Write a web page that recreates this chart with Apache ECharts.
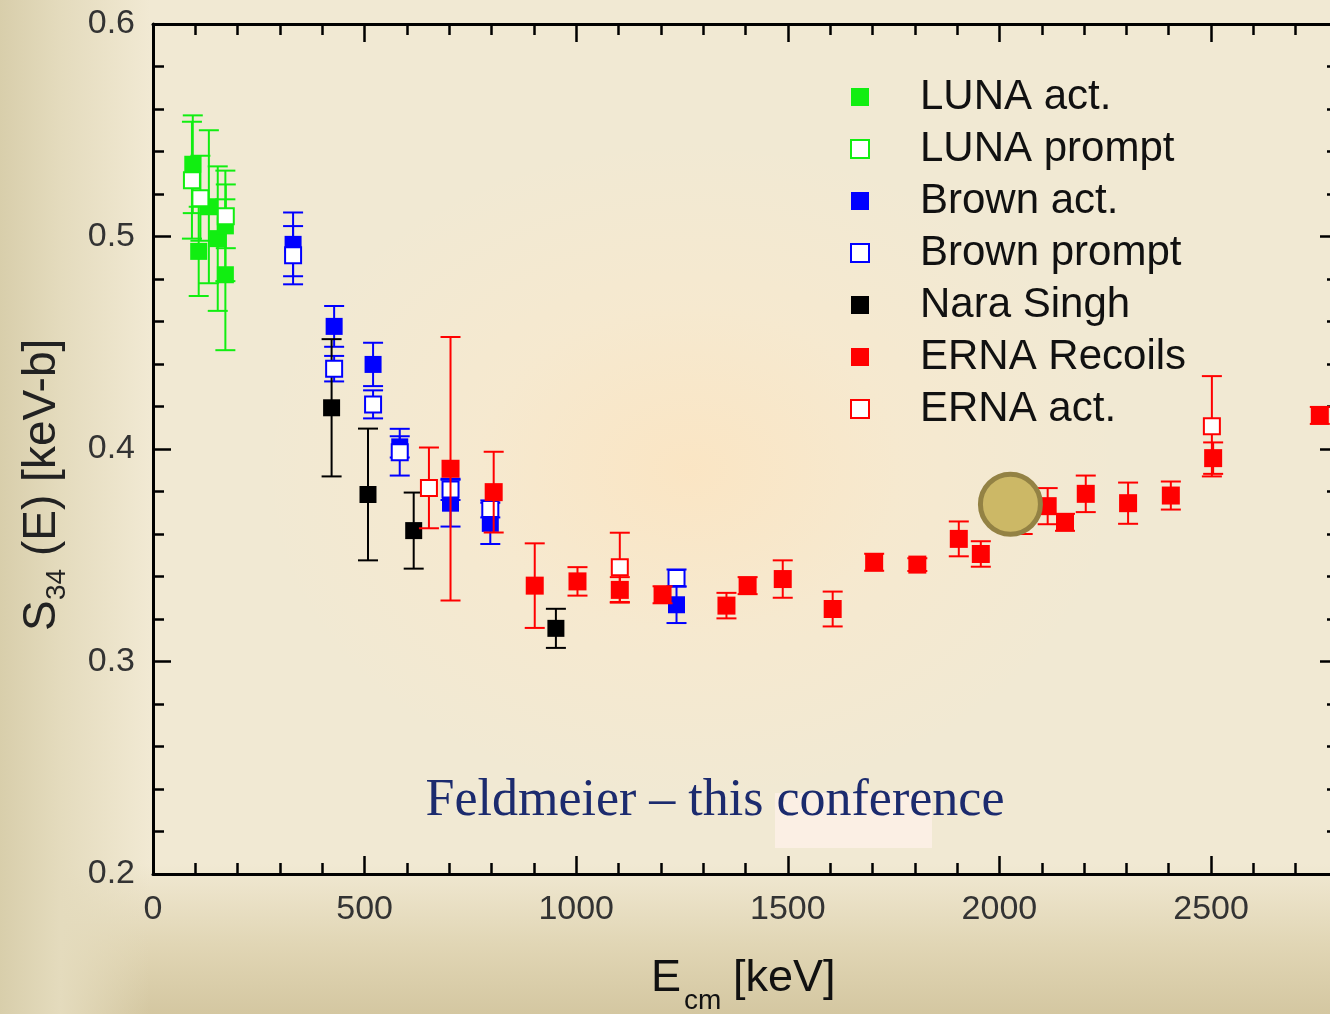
<!DOCTYPE html>
<html>
<head>
<meta charset="utf-8">
<script src="https://cdn.jsdelivr.net/npm/echarts@6/dist/echarts.min.js"></script>
<style>
html,body{margin:0;padding:0;overflow:hidden;}
#wrap{width:1330px;height:1014px;position:relative;overflow:hidden;
background:
 radial-gradient(ellipse 430px 330px at 690px 470px, rgba(251,229,195,0.95) 0%, rgba(249,233,205,0.6) 50%, rgba(245,236,214,0) 100%),
 linear-gradient(to right, #d8ceab 0px, #e4dbbd 60px, rgba(240,232,210,0) 150px),
 linear-gradient(to top, #d4c7a1 0px, #e1d6b5 70px, rgba(240,232,210,0) 150px),
 #f1e9d3;}
#chart{width:1400px;height:1014px;position:absolute;left:0;top:0;}
</style>
</head>
<body>
<div id="wrap"><div id="chart"></div></div>
<script>
// ---- data (E in keV, S34 in keV-b, symmetric error) ----
const lunaActE   = [94, 108, 132, 153, 171, 171];
const lunaActS   = [0.534, 0.493, 0.514, 0.499, 0.505, 0.482];
const lunaActErr = [0.023, 0.021, 0.036, 0.034, 0.026, 0.0355];

const lunaPrE   = [92, 112, 172];
const lunaPrS   = [0.5265, 0.518, 0.5095];
const lunaPrErr = [0.0275, 0.020, 0.015];

const brownActE   = [331, 428, 520, 583, 703, 797, 1237];
const brownActS   = [0.4963, 0.4577, 0.4398, 0.401, 0.3745, 0.365, 0.3267];
const brownActErr = [0.015, 0.0096, 0.0102, 0.005, 0.011, 0.0097, 0.0086];

const brownPrE   = [331, 428, 520, 583, 703, 797, 1237];
const brownPrS   = [0.4912, 0.4378, 0.421, 0.3985, 0.381, 0.3718, 0.3393];
const brownPrErr = [0.0137, 0.006, 0.0066, 0.011, 0.005, 0.004, 0.004];

const naraE   = [422, 508, 616, 952];
const naraS   = [0.4194, 0.3786, 0.3616, 0.3156];
const naraErr = [0.0323, 0.031, 0.0179, 0.0092];

const ernaRecE   = [703, 805, 902, 1003, 1103, 1204, 1355, 1405, 1488, 1606, 1704, 1806, 1904, 1956, 2055, 2114, 2155, 2204, 2304, 2405, 2505, 2757];
const ernaRecS   = [0.3907, 0.3797, 0.3357, 0.3377, 0.3337, 0.3314, 0.3263, 0.3357, 0.3388, 0.3247, 0.3467, 0.3456, 0.3577, 0.3506, 0.368, 0.3731, 0.3655, 0.3789, 0.3745, 0.3781, 0.3957, 0.4158];
const ernaRecErr = [0.062, 0.019, 0.0199, 0.0067, 0.006, 0.004, 0.006, 0.004, 0.0088, 0.0082, 0.004, 0.003, 0.0082, 0.006, 0.008, 0.0085, 0.004, 0.0086, 0.0097, 0.0066, 0.0074, 0.004];

const ernaActE   = [652, 1103, 2502];
const ernaActS   = [0.3817, 0.3443, 0.4107];
const ernaActErr = [0.019, 0.0163, 0.0236];

const highlightE = [2026];
const highlightS = [0.374];

const xTicks = [0, 500, 1000, 1500, 2000, 2500];
const yTicks = [0.2, 0.3, 0.4, 0.5, 0.6];

const names = ['LUNA act.', 'LUNA prompt', 'Brown act.', 'Brown prompt', 'Nara Singh', 'ERNA Recoils', 'ERNA act.'];

// ---- build ----
const GREEN = '#11ee11', BLUE = '#0000ff', BLACK = '#000000', RED = '#ff0000';
const FONT = 'Liberation Sans, Arial, sans-serif';

function pts(E, S) { return E.map((e, i) => [e, S[i]]); }
function bars(E, S, D) { return E.map((e, i) => [e, S[i] - D[i], S[i] + D[i]]); }

function errSeries(name, color, E, S, D, z) {
  return {
    name: name, type: 'custom', z: z, silent: true,
    xAxisIndex: 0, yAxisIndex: 0,
    encode: { x: 0, y: [1, 2] },
    data: bars(E, S, D),
    renderItem: function (params, api) {
      const x = api.value(0), lo = api.value(1), hi = api.value(2);
      const p1 = api.coord([x, hi]), p2 = api.coord([x, lo]);
      const hw = 10;
      const st = { stroke: color, lineWidth: 2 };
      return { type: 'group', children: [
        { type: 'line', shape: { x1: p1[0], y1: p1[1], x2: p2[0], y2: p2[1] }, style: st },
        { type: 'line', shape: { x1: p1[0] - hw, y1: p1[1], x2: p1[0] + hw, y2: p1[1] }, style: st },
        { type: 'line', shape: { x1: p2[0] - hw, y1: p2[1], x2: p2[0] + hw, y2: p2[1] }, style: st }
      ]};
    }
  };
}
function ptSeries(name, color, E, S, open, size, z) {
  return {
    name: name, type: 'scatter', z: z, silent: true,
    xAxisIndex: 0, yAxisIndex: 0,
    symbol: 'rect', symbolSize: size,
    itemStyle: open ? { color: '#ffffff', borderColor: color, borderWidth: 2, opacity: 1 }
                    : { color: color, opacity: 1 },
    data: pts(E, S)
  };
}

const series = [
  errSeries('e1', GREEN, lunaActE, lunaActS, lunaActErr, 2),
  ptSeries(names[0], GREEN, lunaActE, lunaActS, false, 17, 3),
  errSeries('e2', GREEN, lunaPrE, lunaPrS, lunaPrErr, 2),
  ptSeries(names[1], GREEN, lunaPrE, lunaPrS, true, 16, 3),
  errSeries('e3', BLUE, brownActE, brownActS, brownActErr, 2),
  ptSeries(names[2], BLUE, brownActE, brownActS, false, 17, 3),
  errSeries('e4', BLUE, brownPrE, brownPrS, brownPrErr, 2),
  ptSeries(names[3], BLUE, brownPrE, brownPrS, true, 16, 3),
  errSeries('e5', BLACK, naraE, naraS, naraErr, 2),
  ptSeries(names[4], BLACK, naraE, naraS, false, 17, 3),
  errSeries('e6', RED, ernaRecE, ernaRecS, ernaRecErr, 4),
  ptSeries(names[5], RED, ernaRecE, ernaRecS, false, 18, 5),
  errSeries('e7', RED, ernaActE, ernaActS, ernaActErr, 4),
  ptSeries(names[6], RED, ernaActE, ernaActS, true, 16, 5),
  {
    name: 'highlight', type: 'scatter', z: 20, silent: true,
    xAxisIndex: 0, yAxisIndex: 0,
    symbol: 'circle', symbolSize: 60,
    itemStyle: { color: '#ccb866', borderColor: '#938244', borderWidth: 5, opacity: 1 },
    data: pts(highlightE, highlightS)
  }
];

const legendData = [
  { name: names[0], icon: 'rect', itemStyle: { color: GREEN, borderWidth: 0 } },
  { name: names[1], icon: 'rect', itemStyle: { color: '#fff', borderColor: GREEN, borderWidth: 2 } },
  { name: names[2], icon: 'rect', itemStyle: { color: BLUE, borderWidth: 0 } },
  { name: names[3], icon: 'rect', itemStyle: { color: '#fff', borderColor: BLUE, borderWidth: 2 } },
  { name: names[4], icon: 'rect', itemStyle: { color: BLACK, borderWidth: 0 } },
  { name: names[5], icon: 'rect', itemStyle: { color: RED, borderWidth: 0 } },
  { name: names[6], icon: 'rect', itemStyle: { color: '#fff', borderColor: RED, borderWidth: 2 } }
];

const tickStyle = { color: '#000', width: 2.5 };
const xMin = xTicks[0], xMax = 2800;
const yMin = yTicks[0], yMax = yTicks[yTicks.length - 1];

function xAxisDef(pos, major) {
  return {
    type: 'value', position: pos, min: xMin, max: xMax,
    interval: major ? 500 : 100,
    axisLine: { show: major, onZero: false, lineStyle: { color: '#000', width: 3 } },
    axisTick: { show: true, inside: true, length: major ? 18 : 11, lineStyle: tickStyle },
    axisLabel: { show: major && pos === 'bottom', margin: 19, fontSize: 34, color: '#333', fontFamily: FONT,
      formatter: v => (xTicks.indexOf(v) >= 0 ? String(v) : '') },
    splitLine: { show: false }
  };
}
function yAxisDef(pos) {
  return {
    type: 'value', position: pos, min: yMin, max: yMax, interval: 0.1,
    axisLine: { show: true, onZero: false, lineStyle: { color: '#000', width: 3 } },
    axisTick: { show: true, inside: true, length: 18, lineStyle: tickStyle },
    minorTick: { show: true, splitNumber: 5, length: 11, lineStyle: tickStyle },
    axisLabel: { show: pos === 'left', margin: 18, fontSize: 34, color: '#333', fontFamily: FONT,
      formatter: v => v.toFixed(1) },
    splitLine: { show: false }, minorSplitLine: { show: false }
  };
}

const chart = echarts.init(document.getElementById('chart'), null, { renderer: 'canvas' });
chart.setOption({
  animation: false,
  backgroundColor: 'transparent',
  grid: { left: 153, top: 24, width: 1185, height: 850, containLabel: false },
  xAxis: [xAxisDef('bottom', true), xAxisDef('bottom', false), xAxisDef('top', true), xAxisDef('top', false)],
  yAxis: [yAxisDef('left'), yAxisDef('right')],
  legend: {
    data: legendData, orient: 'vertical', left: 845, top: 66,
    itemWidth: 18, itemHeight: 18, itemGap: 0, selectedMode: false,
    textStyle: { fontSize: 42, color: '#111', fontFamily: FONT, lineHeight: 52, padding: [0, 0, 0, 46] }
  },
  graphic: [
    { type: 'rect', z: 0, shape: { x: 775, y: 793, width: 157, height: 55 }, style: { fill: 'rgba(253,240,230,0.85)' } },
    { type: 'text', z: 30, x: 715, y: 801, style: { text: 'Feldmeier \u2013 this conference', font: '52px "Liberation Serif", serif', fill: '#1c2b6e', align: 'center', verticalAlign: 'middle' } },
    { type: 'group', x: 42, y: 631, rotation: Math.PI / 2, children: [
      { type: 'text', x: 0, y: 0, style: { text: 'S', font: '46px ' + FONT, fill: '#222', align: 'left', verticalAlign: 'middle' } },
      { type: 'text', x: 31, y: 15, style: { text: '34', font: '28px ' + FONT, fill: '#222', align: 'left', verticalAlign: 'middle' } },
      { type: 'text', x: 75, y: 0, style: { text: '(E) [keV-b]', font: '46px ' + FONT, fill: '#222', align: 'left', verticalAlign: 'middle' } }
    ]},
    { type: 'text', x: 651, y: 979, style: { text: 'E', font: '45px ' + FONT, fill: '#111', align: 'left', verticalAlign: 'middle' } },
    { type: 'text', x: 684, y: 1001, style: { text: 'cm', font: '28px ' + FONT, fill: '#111', align: 'left', verticalAlign: 'middle' } },
    { type: 'text', x: 733, y: 979, style: { text: '[keV]', font: '45px ' + FONT, fill: '#111', align: 'left', verticalAlign: 'middle' } }
  ],
  series: series
});
</script>
</body>
</html>
